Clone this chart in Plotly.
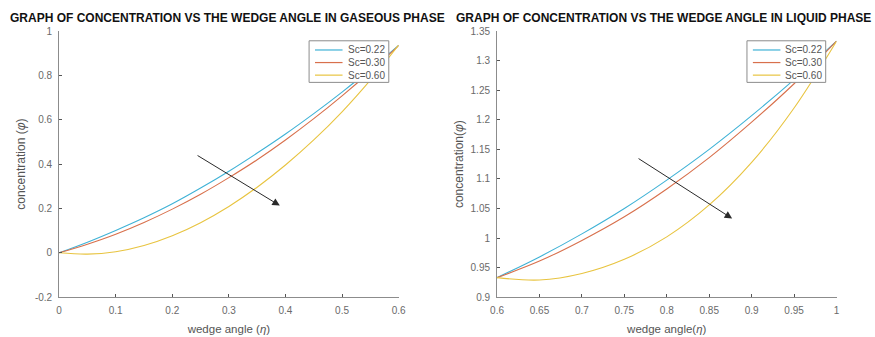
import plotly.graph_objects as go

# ---- data: gaseous phase ----
gas_x = [0.0, 0.05, 0.1, 0.15, 0.2, 0.25, 0.3, 0.35, 0.4, 0.45, 0.5, 0.55, 0.6]
gas_sc022 = [0.0, 0.048, 0.101, 0.158, 0.221, 0.292, 0.368, 0.450, 0.536, 0.628, 0.725, 0.828, 0.936]
gas_sc030 = [0.0, 0.039, 0.084, 0.137, 0.197, 0.264, 0.339, 0.420, 0.509, 0.605, 0.708, 0.818, 0.935]
gas_sc060 = [0.0, -0.006, 0.005, 0.033, 0.077, 0.136, 0.209, 0.296, 0.396, 0.509, 0.636, 0.779, 0.937]

# ---- data: liquid phase ----
liq_x = [0.6, 0.65, 0.7, 0.75, 0.8, 0.85, 0.9, 0.95, 1.0]
liq_sc022 = [0.933, 0.968, 1.007, 1.050, 1.098, 1.150, 1.207, 1.268, 1.333]
liq_sc030 = [0.933, 0.961, 0.996, 1.036, 1.083, 1.136, 1.196, 1.261, 1.333]
liq_sc060 = [0.933, 0.929, 0.940, 0.964, 1.002, 1.056, 1.128, 1.220, 1.333]

series_names = ["Sc=0.22", "Sc=0.30", "Sc=0.60"]
colors = ["#3fb2d6", "#d8704c", "#e8c440"]

gas_xticks = [0, 0.1, 0.2, 0.3, 0.4, 0.5, 0.6]
gas_xticklabels = ["0", "0.1", "0.2", "0.3", "0.4", "0.5", "0.6"]
gas_yticks = [-0.2, 0, 0.2, 0.4, 0.6, 0.8, 1]
gas_yticklabels = ["-0.2", "0", "0.2", "0.4", "0.6", "0.8", "1"]
liq_xticks = [0.6, 0.65, 0.7, 0.75, 0.8, 0.85, 0.9, 0.95, 1.0]
liq_xticklabels = ["0.6", "0.65", "0.7", "0.75", "0.8", "0.85", "0.9", "0.95", "1"]
liq_yticks = [0.9, 0.95, 1.0, 1.05, 1.1, 1.15, 1.2, 1.25, 1.3, 1.35]
liq_yticklabels = ["0.9", "0.95", "1", "1.05", "1.1", "1.15", "1.2", "1.25", "1.3", "1.35"]

titles = ["GRAPH OF CONCENTRATION VS THE WEDGE ANGLE IN GASEOUS PHASE",
          "GRAPH OF CONCENTRATION VS THE WEDGE ANGLE IN LIQUID PHASE"]
xlabels = ["wedge angle (<i>η</i>)", "wedge angle(<i>η</i>)"]
ylabels = ["concentration (<i>φ</i>)", "concentration(<i>φ</i>)"]

# arrows (tail -> head) in data coordinates
gas_arrow = dict(tail=(0.242, 0.443), head=(0.39, 0.213))
liq_arrow = dict(tail=(0.765, 1.136), head=(0.877, 1.033))

W, H = 875, 337
FONT = "Liberation Sans, Arial"

fig = go.Figure()
for name, ys, c in zip(series_names, [gas_sc022, gas_sc030, gas_sc060], colors):
    fig.add_trace(go.Scatter(x=gas_x, y=ys, mode="lines", name=name, showlegend=False,
                             line=dict(color=c, width=1.1, shape="spline", smoothing=1),
                             xaxis="x", yaxis="y"))
for name, ys, c in zip(series_names, [liq_sc022, liq_sc030, liq_sc060], colors):
    fig.add_trace(go.Scatter(x=liq_x, y=ys, mode="lines", name=name, showlegend=False,
                             line=dict(color=c, width=1.1, shape="spline", smoothing=1),
                             xaxis="x2", yaxis="y2"))

axis_common = dict(showgrid=False, zeroline=False, showline=True, linecolor="#8c8c8c",
                   linewidth=1, ticks="inside", ticklen=3, tickcolor="#555555",
                   tickfont=dict(family=FONT, size=10, color="#6a6a6a"),
                   ticklabelstandoff=4, mirror=False)
xtitle_font = dict(family=FONT, size=11.5, color="#555555")
ytitle_font = dict(family=FONT, size=12, color="#555555")

ydom = [(H - 302) / H, (H - 27) / H]
fig.update_layout(
    width=W, height=H, margin=dict(l=0, r=0, t=0, b=0),
    paper_bgcolor="white", plot_bgcolor="white", showlegend=False,
    xaxis=dict(domain=[53 / W, 398 / W], range=[0, 0.6], tickvals=gas_xticks,
               ticktext=gas_xticklabels, anchor="y",
               title=dict(text=xlabels[0], font=xtitle_font, standoff=9), **axis_common),
    yaxis=dict(domain=ydom, range=[-0.2, 1], tickvals=gas_yticks, ticktext=gas_yticklabels,
               anchor="x", title=dict(text=ylabels[0], font=ytitle_font, standoff=6),
               **axis_common),
    xaxis2=dict(domain=[498 / W, 843 / W], range=[0.6, 1.0], tickvals=liq_xticks,
                ticktext=liq_xticklabels, anchor="y2",
                title=dict(text=xlabels[1], font=xtitle_font, standoff=9), **axis_common),
    yaxis2=dict(domain=ydom, range=[0.9, 1.35], tickvals=liq_yticks, ticktext=liq_yticklabels,
                anchor="x2", title=dict(text=ylabels[1], font=ytitle_font, standoff=4),
                **axis_common),
)

for title, xc in zip(titles, [224, 667]):
    fig.add_annotation(text="<b>" + title + "</b>", x=xc / W, y=1 - 13 / H,
                       xref="paper", yref="paper", xanchor="center", yanchor="middle",
                       showarrow=False, font=dict(family=FONT, size=12, color="#111111"))

for arr, xr, yr in [(gas_arrow, "x", "y"), (liq_arrow, "x2", "y2")]:
    fig.add_annotation(x=arr["head"][0], y=arr["head"][1], ax=arr["tail"][0], ay=arr["tail"][1],
                       xref=xr, yref=yr, axref=xr, ayref=yr, text="", showarrow=True,
                       arrowhead=2, arrowsize=1.5, arrowwidth=1, arrowcolor="#2a2a2a")

# legend boxes (MATLAB-style compact legend), positions in pixels
def px(x):
    return x / W

def py(y):
    return 1 - y / H

for left, right in [(307, 388), (752, 832)]:
    fig.add_shape(type="rect", xref="paper", yref="paper",
                  x0=px(left), x1=px(right), y0=py(80), y1=py(37),
                  line=dict(color="#8c8c8c", width=1), fillcolor="white", layer="above")
    for i, (name, c) in enumerate(zip(series_names, colors)):
        yrow = 46.5 + 13 * i
        fig.add_shape(type="line", xref="paper", yref="paper",
                      x0=px(left + 6), x1=px(left + 34), y0=py(yrow), y1=py(yrow),
                      line=dict(color=c, width=1.2), layer="above")
        fig.add_annotation(text=name, x=px(right - 2), y=py(yrow), xref="paper", yref="paper",
                           xanchor="right", yanchor="middle", showarrow=False,
                           font=dict(family=FONT, size=10, color="#555555"))

fig.write_html("out.html")
